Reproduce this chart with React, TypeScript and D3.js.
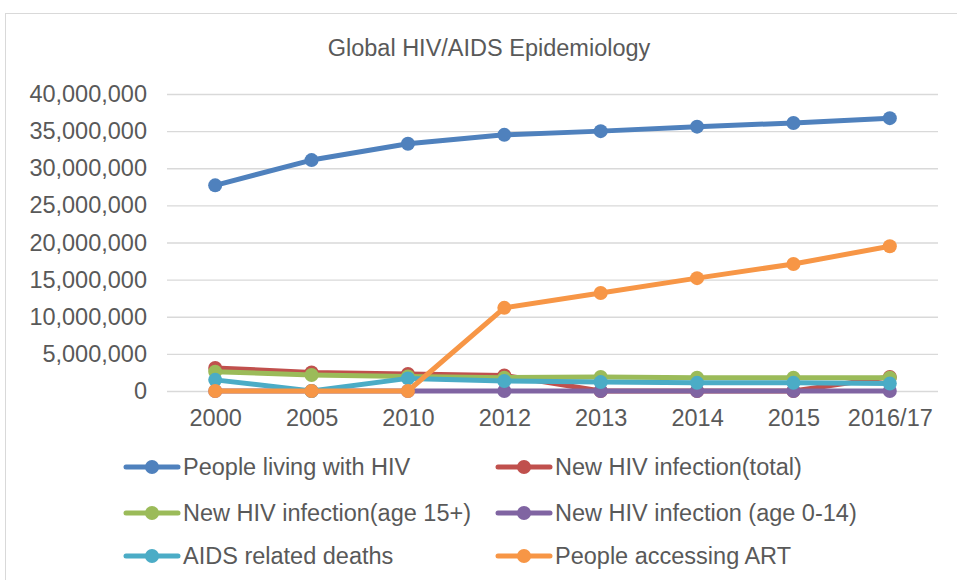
import * as d3 from 'd3'
import { FC, useEffect, useRef } from 'react'

// categories on the x axis
const years = ['2000', '2005', '2010', '2012', '2013', '2014', '2015', '2016/17']

// series values
const livingWithHiv = [27700000, 31100000, 33300000, 34500000, 35000000, 35600000, 36100000, 36750000]
const newTotal = [3100000, 2500000, 2300000, 2100000, 0, 0, 0, 1900000]
const newAdult = [2600000, 2150000, 1950000, 1800000, 1900000, 1800000, 1800000, 1800000]
const newChild = [0, 0, 0, 0, 0, 0, 0, 0]
const aidsDeaths = [1500000, 0, 1700000, 1350000, 1200000, 1100000, 1100000, 1000000]
const accessingArt = [0, 0, 0, 11200000, 13200000, 15200000, 17100000, 19500000]

const seriesNames = [
  'People living with HIV',
  'New HIV infection(total)',
  'New HIV infection(age 15+)',
  'New HIV infection (age 0-14)',
  'AIDS related deaths',
  'People accessing ART',
]
const seriesColors = ['#4F81BD', '#C0504D', '#9BBB59', '#8064A2', '#4BACC6', '#F79646']

const yTicks = [0, 5000000, 10000000, 15000000, 20000000, 25000000, 30000000, 35000000, 40000000]

const App: FC = () => {
  const svgRef = useRef<SVGSVGElement>(null)

  const width = 957
  const height = 580
  const font = '"Liberation Sans", Arial, sans-serif'
  const textColor = '#595959'

  useEffect(() => {
    const svg = d3.select(svgRef.current)
    svg.selectAll('*').remove()

    const allSeries = [livingWithHiv, newTotal, newAdult, newChild, aidsDeaths, accessingArt]

    // chart frame
    svg
      .append('rect')
      .attr('x', 5.5)
      .attr('y', 13.5)
      .attr('width', 1000)
      .attr('height', 700)
      .attr('fill', '#fff')
      .attr('stroke', '#d9d9d9')
      .attr('stroke-width', 1)

    // title
    svg
      .append('text')
      .attr('x', 489)
      .attr('y', 56)
      .attr('text-anchor', 'middle')
      .style('font-family', font)
      .style('font-size', '23.5px')
      .attr('fill', textColor)
      .text('Global HIV/AIDS Epidemiology')

    // scales
    const xScale = d3.scalePoint<string>().domain(years).range([167, 938]).padding(0.5)
    const yScale = d3.scaleLinear().domain([0, 40000000]).range([391, 94])

    // grid
    const yAxisGrid = d3
      .axisLeft(yScale)
      .tickValues(yTicks)
      .tickSize(-(938 - 167))
      .tickFormat(() => '')

    svg
      .append('g')
      .attr('transform', 'translate(167,0)')
      .call(yAxisGrid)
      .call((g) => g.select('.domain').remove())
      .call((g) => g.selectAll('line').attr('stroke', '#d9d9d9').attr('stroke-width', 1.3))

    // Y labels
    const yAxis = d3
      .axisLeft(yScale)
      .tickValues(yTicks)
      .tickSize(0)
      .tickPadding(20)
      .tickFormat((d) => d3.format(',')(d as number))

    svg
      .append('g')
      .attr('transform', 'translate(167,0)')
      .call(yAxis)
      .call((g) => g.select('.domain').remove())
      .call((g) =>
        g
          .selectAll('text')
          .attr('fill', textColor)
          .style('font-family', font)
          .style('font-size', '23.5px'),
      )

    // X labels
    const xAxis = d3.axisBottom(xScale).tickSize(0).tickPadding(18)
    svg
      .append('g')
      .attr('transform', 'translate(0,391)')
      .call(xAxis)
      .call((g) => g.select('.domain').remove())
      .call((g) =>
        g
          .selectAll('text')
          .attr('fill', textColor)
          .style('font-family', font)
          .style('font-size', '23.5px'),
      )

    // lines + markers, drawn in series order
    const line = d3
      .line<number>()
      .x((_, i) => xScale(years[i]) as number)
      .y((d) => yScale(d))

    allSeries.forEach((values, si) => {
      const g = svg.append('g')
      g.append('path')
        .datum(values)
        .attr('d', line)
        .attr('fill', 'none')
        .attr('stroke', seriesColors[si])
        .attr('stroke-width', 5)
        .attr('stroke-linejoin', 'round')
        .attr('stroke-linecap', 'round')
      g.selectAll('circle')
        .data(values)
        .enter()
        .append('circle')
        .attr('cx', (_, i) => xScale(years[i]) as number)
        .attr('cy', (d) => yScale(d))
        .attr('r', 7)
        .attr('fill', seriesColors[si])
    })

    // legend
    const legendCols = [152, 524]
    const legendRows = [467, 513, 556]
    seriesNames.forEach((name, i) => {
      const cx = legendCols[i % 2]
      const cy = legendRows[Math.floor(i / 2)]
      const lg = svg.append('g')
      lg.append('line')
        .attr('x1', cx - 26)
        .attr('x2', cx + 26)
        .attr('y1', cy)
        .attr('y2', cy)
        .attr('stroke', seriesColors[i])
        .attr('stroke-width', 5)
        .attr('stroke-linecap', 'round')
      lg.append('circle').attr('cx', cx).attr('cy', cy).attr('r', 7).attr('fill', seriesColors[i])
      lg.append('text')
        .attr('x', cx + 31)
        .attr('y', cy + 8)
        .attr('fill', textColor)
        .style('font-family', font)
        .style('font-size', '23.5px')
        .text(name)
    })
  }, [])

  return (
    <svg
      ref={svgRef}
      width={width}
      height={height}
      style={{ position: 'absolute', left: 0, top: 0, background: '#fff' }}
    />
  )
}

export default App
